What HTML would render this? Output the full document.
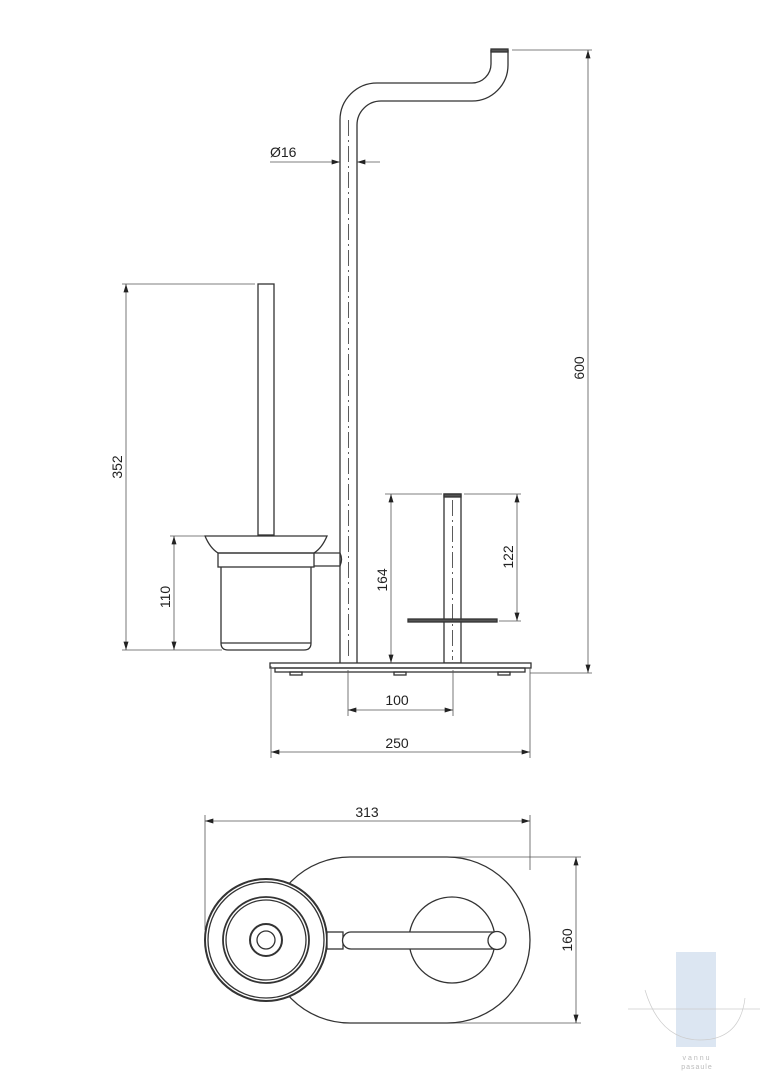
<!DOCTYPE html>
<html><head><meta charset="utf-8"><style>
html,body{margin:0;padding:0;background:#fff;}
svg{display:block;}
text{font-family:"Liberation Sans",sans-serif;font-size:14px;fill:#222;}
</style></head><body>
<svg width="764" height="1080" viewBox="0 0 764 1080" xmlns="http://www.w3.org/2000/svg">
<defs>
<marker id="a" viewBox="0 0 10 6" refX="10" refY="3" markerWidth="12" markerHeight="5" orient="auto-start-reverse" markerUnits="userSpaceOnUse"><path d="M0,0 L10,3 L0,6z" fill="#222"/></marker>
</defs>
<g fill="none" stroke="#333" stroke-width="1.3">
<!-- main pole -->
<path d="M340,663 V120 A37,37 0 0 1 377,83 H472 A19,19 0 0 0 491,64 V50"/>
<path d="M357,663 V125 A24,24 0 0 1 381,101 H472 A36,36 0 0 0 508,65 V50"/>
<rect x="491" y="49" width="17" height="3" fill="#555"/>
<line x1="348.5" y1="120" x2="348.5" y2="660" stroke-dasharray="16,4,2,4" stroke-width="0.8"/>
<!-- brush rod -->
<rect x="258" y="284" width="16" height="251"/>
<!-- bowl -->
<path d="M205,536 H327 Q322,548 314,553 H218 Q210,548 205,536z"/>
<rect x="218" y="553" width="96" height="14"/>
<path d="M221,567 V643 Q221,650 228,650 H304 Q311,650 311,643 V567"/>
<line x1="221" y1="643" x2="311" y2="643"/>
<path d="M314,553 H340 Q343,559 340,566 H314"/>
<!-- right pole -->
<rect x="444" y="494" width="17" height="169"/>
<rect x="444" y="494" width="17" height="3" fill="#555"/>
<line x1="452.5" y1="500" x2="452.5" y2="660" stroke-dasharray="16,4,2,4" stroke-width="0.8"/>
<rect x="408" y="619" width="89" height="3" fill="#555"/>
<!-- base -->
<rect x="270" y="663" width="261" height="5" fill="#fff"/>
<rect x="275" y="668" width="250" height="4"/>
<rect x="290" y="672" width="12" height="3"/>
<rect x="394" y="672" width="12" height="3"/>
<rect x="498" y="672" width="12" height="3"/>
</g>
<!-- dimensions -->
<g stroke="#555" stroke-width="0.8" fill="none">
<line x1="512" y1="50" x2="592" y2="50"/><line x1="530" y1="673" x2="592" y2="673"/>
<line x1="588" y1="50" x2="588" y2="673" marker-start="url(#a)" marker-end="url(#a)"/>
<line x1="270" y1="162" x2="340" y2="162" marker-end="url(#a)"/>
<line x1="380" y1="162" x2="357" y2="162" marker-end="url(#a)"/>
<line x1="122" y1="284" x2="255" y2="284"/><line x1="122" y1="650" x2="222" y2="650"/>
<line x1="126" y1="284" x2="126" y2="650" marker-start="url(#a)" marker-end="url(#a)"/>
<line x1="170" y1="536" x2="205" y2="536"/>
<line x1="174" y1="536" x2="174" y2="650" marker-start="url(#a)" marker-end="url(#a)"/>
<line x1="385" y1="494" x2="442" y2="494"/><line x1="464" y1="494" x2="521" y2="494"/>
<line x1="499" y1="621" x2="521" y2="621"/>
<line x1="391" y1="494" x2="391" y2="663" marker-start="url(#a)" marker-end="url(#a)"/>
<line x1="517" y1="494" x2="517" y2="621" marker-start="url(#a)" marker-end="url(#a)"/>
<line x1="348" y1="670" x2="348" y2="716"/><line x1="453" y1="670" x2="453" y2="716"/>
<line x1="348" y1="710" x2="453" y2="710" marker-start="url(#a)" marker-end="url(#a)"/>
<line x1="271" y1="666" x2="271" y2="758"/><line x1="530" y1="668" x2="530" y2="758"/>
<line x1="271" y1="752" x2="530" y2="752" marker-start="url(#a)" marker-end="url(#a)"/>
<line x1="205" y1="815" x2="205" y2="930"/><line x1="530" y1="815" x2="530" y2="870"/>
<line x1="205" y1="821" x2="530" y2="821" marker-start="url(#a)" marker-end="url(#a)"/>
<line x1="450" y1="857" x2="581" y2="857"/><line x1="450" y1="1023" x2="581" y2="1023"/>
<line x1="576" y1="857" x2="576" y2="1023" marker-start="url(#a)" marker-end="url(#a)"/>
</g>
<text x="270" y="157">Ø16</text>
<text transform="translate(584,368) rotate(-90)" text-anchor="middle">600</text>
<text transform="translate(122,467) rotate(-90)" text-anchor="middle">352</text>
<text transform="translate(170,597) rotate(-90)" text-anchor="middle">110</text>
<text transform="translate(387,580) rotate(-90)" text-anchor="middle">164</text>
<text transform="translate(513,557) rotate(-90)" text-anchor="middle">122</text>
<text x="397" y="705" text-anchor="middle">100</text>
<text x="397" y="748" text-anchor="middle">250</text>
<text x="367" y="817" text-anchor="middle">313</text>
<text transform="translate(572,940) rotate(-90)" text-anchor="middle">160</text>
<!-- top view -->
<g fill="none" stroke="#333" stroke-width="1.3">
<path d="M350,857 H447 A83,83 0 0 1 447,1023 H350 A83,83 0 0 1 350,857z"/>
<circle cx="452" cy="940" r="43"/>
<circle cx="266" cy="940" r="61" fill="#fff" stroke-width="2"/>
<circle cx="266" cy="940" r="58"/>
<circle cx="266" cy="940" r="43" stroke-width="1.8"/>
<circle cx="266" cy="940" r="40"/>
<circle cx="266" cy="940" r="16" stroke-width="2"/>
<circle cx="266" cy="940" r="9"/>
<rect x="327" y="932" width="16" height="17" fill="#fff"/>
<path d="M351,932 H497 A8.5,8.5 0 0 1 497,949 H351 A8.5,8.5 0 0 1 351,932z" fill="#fff"/>
<circle cx="497" cy="940.5" r="9" fill="#fff"/>
</g>
<!-- watermark -->
<rect x="676" y="952" width="40" height="95" fill="#dce6f2"/>
<path d="M645,990 Q660,1040 700,1040 Q740,1040 745,998" fill="none" stroke="#ccc" stroke-width="0.7"/>
<line x1="628" y1="1009" x2="760" y2="1009" stroke="#ccc" stroke-width="0.7"/>
<text x="697" y="1060" text-anchor="middle" style="font-size:7px;fill:#bbb;letter-spacing:2px">vannu</text>
<text x="697" y="1069" text-anchor="middle" style="font-size:7px;fill:#bbb;letter-spacing:1px">pasaule</text>
</svg>
</body></html>
